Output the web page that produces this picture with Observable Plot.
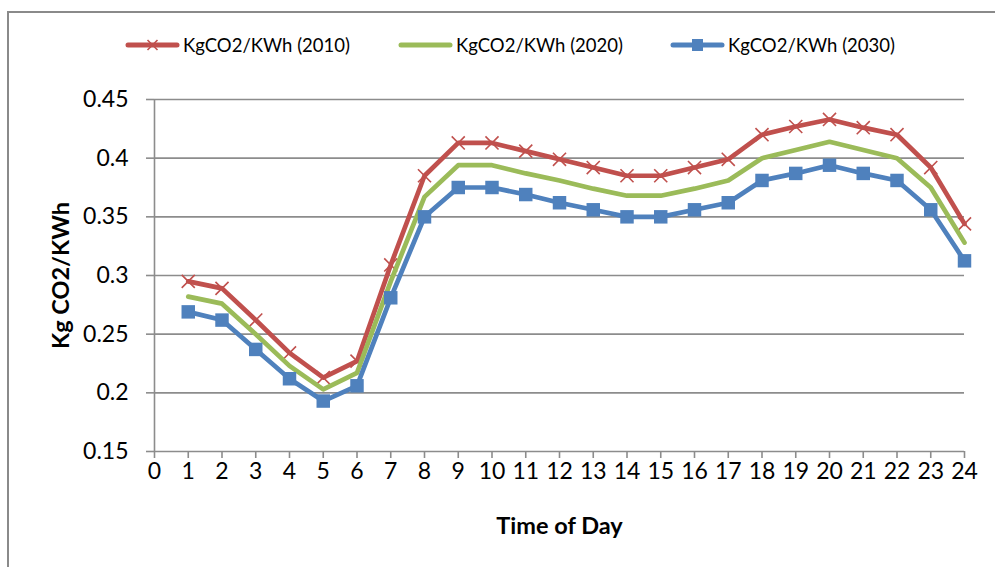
<!DOCTYPE html>
<html>
<head>
<meta charset="utf-8">
<script src="https://cdn.jsdelivr.net/npm/d3@7"></script>
<script src="https://cdn.jsdelivr.net/npm/@observablehq/plot@0.6"></script>
<style>
html, body { margin: 0; padding: 0; background: #fff; overflow: hidden; width: 995px; height: 567px; }
#wrap { position: relative; width: 995px; height: 567px; font-family: Lato, "Open Sans", sans-serif; overflow: hidden; }
#frame { position: absolute; left: 7px; top: 11px; width: 1100px; height: 700px; border: 2px solid #8a8a8a; box-sizing: border-box; }
.item { position: absolute; top: 34px; display: flex; align-items: center; font-size: 18.5px; color: #000; white-space: nowrap; }
.item svg { display: block; margin-right: 3px; }
#chart { position: absolute; left: 0; top: 80px; }
#chart svg [aria-label="x-axis label"] text,
#chart svg [aria-label="y-axis label"] text { font-weight: 700; font-size: 23.5px; }
</style>
</head>
<body>
<div id="wrap">
  <div id="frame"></div>
  <div id="legend"></div>
  <div id="chart"></div>
</div>
<script>
// ---- data ----
const hours = [1, 2, 3, 4, 5, 6, 7, 8, 9, 10, 11, 12, 13, 14, 15, 16, 17, 18, 19, 20, 21, 22, 23, 24];
const co2_2010 = [0.295, 0.289, 0.262, 0.234, 0.213, 0.227, 0.309, 0.385, 0.413, 0.413, 0.406, 0.399,
                  0.392, 0.385, 0.385, 0.392, 0.399, 0.420, 0.427, 0.433, 0.426, 0.420, 0.392, 0.344];
const co2_2020 = [0.282, 0.276, 0.250, 0.223, 0.203, 0.217, 0.295, 0.367, 0.394, 0.394, 0.387, 0.381,
                  0.374, 0.368, 0.368, 0.374, 0.381, 0.400, 0.407, 0.414, 0.407, 0.400, 0.375, 0.328];
const co2_2030 = [0.269, 0.262, 0.237, 0.212, 0.193, 0.206, 0.281, 0.350, 0.375, 0.375, 0.369, 0.362,
                  0.356, 0.350, 0.350, 0.356, 0.362, 0.381, 0.387, 0.394, 0.387, 0.381, 0.356, 0.3125];
const seriesNames = ["KgCO2/KWh (2010)", "KgCO2/KWh (2020)", "KgCO2/KWh (2030)"];
const xTicks = [0, 1, 2, 3, 4, 5, 6, 7, 8, 9, 10, 11, 12, 13, 14, 15, 16, 17, 18, 19, 20, 21, 22, 23, 24];
const yTicks = [0.15, 0.2, 0.25, 0.3, 0.35, 0.4, 0.45];
const yTickLabels = ["0.15", "0.2", "0.25", "0.3", "0.35", "0.4", "0.45"];
const xLabel = "Time of Day";
const yLabel = "Kg CO2/KWh";

// ---- styles ----
const colors = ["#C0504D", "#9BBB59", "#4F81BD"];
const gridColor = "#8c8c8c";

const rows = (vals) => hours.map((h, i) => ({hour: h, value: vals[i]}));
const d2010 = rows(co2_2010), d2020 = rows(co2_2020), d2030 = rows(co2_2030);

// ---- legend ----
const legendLefts = [125, 398, 670];
const legend = document.getElementById("legend");
seriesNames.forEach((name, i) => {
  const item = document.createElement("div");
  item.className = "item";
  item.style.left = legendLefts[i] + "px";
  let marker = "";
  if (i === 0) marker = `<path d="M22.5,5 L32.5,15 M32.5,5 L22.5,15" stroke="${colors[0]}" stroke-width="1.6"/>`;
  if (i === 2) marker = `<rect x="22" y="4" width="11" height="12" fill="${colors[2]}"/>`;
  item.innerHTML = `<svg width="55" height="20"><line x1="3" y1="10" x2="52" y2="10" stroke="${colors[i]}" stroke-width="5" stroke-linecap="round"/>${marker}</svg><span>${name}</span>`;
  legend.appendChild(item);
});

// ---- chart ----
const chart = Plot.plot({
  width: 995,
  height: 487,
  marginLeft: 154,
  marginRight: 31,
  marginTop: 19,
  marginBottom: 116,
  x: {domain: [0, 24]},
  y: {domain: [0.15, 0.45]},
  style: {fontFamily: "Lato, 'Open Sans', sans-serif", fontSize: "23px", color: "#000", background: "transparent", overflow: "visible"},
  marks: [
    Plot.ruleY(yTicks.slice(1), {stroke: gridColor, strokeWidth: 1.6}),
    Plot.ruleY([yTicks[0]], {stroke: gridColor, strokeWidth: 1.6}),
    Plot.ruleX([xTicks[0]], {stroke: gridColor, strokeWidth: 1.6}),
    Plot.axisX({ticks: xTicks, tickSize: 7, tickPadding: 4, stroke: gridColor, strokeWidth: 1.6, strokeOpacity: 1,
      tickFormat: d => String(d), label: xLabel, labelAnchor: "center", labelOffset: 82, labelArrow: "none"}),
    Plot.axisY({ticks: yTicks, tickSize: 8, tickPadding: 18, stroke: gridColor, strokeWidth: 1.6, strokeOpacity: 1,
      tickFormat: d => yTickLabels[yTicks.findIndex(v => Math.abs(v - d) < 1e-9)],
      label: yLabel, labelAnchor: "center", labelOffset: 102, labelArrow: "none"}),
    Plot.lineY(d2010, {x: "hour", y: "value", stroke: colors[0], strokeWidth: 4.7, strokeLinejoin: "round", strokeLinecap: "round"}),
    Plot.dot(d2010, {x: "hour", y: "value", symbol: "times", stroke: colors[0], strokeWidth: 1.6, r: 6}),
    Plot.lineY(d2020, {x: "hour", y: "value", stroke: colors[1], strokeWidth: 4.7, strokeLinejoin: "round", strokeLinecap: "round"}),
    Plot.lineY(d2030, {x: "hour", y: "value", stroke: colors[2], strokeWidth: 4.7, strokeLinejoin: "round", strokeLinecap: "round"}),
    Plot.dot(d2030, {x: "hour", y: "value", symbol: "square", fill: colors[2], stroke: "none", r: 7.6})
  ]
});
document.getElementById("chart").appendChild(chart);
</script>
</body>
</html>
